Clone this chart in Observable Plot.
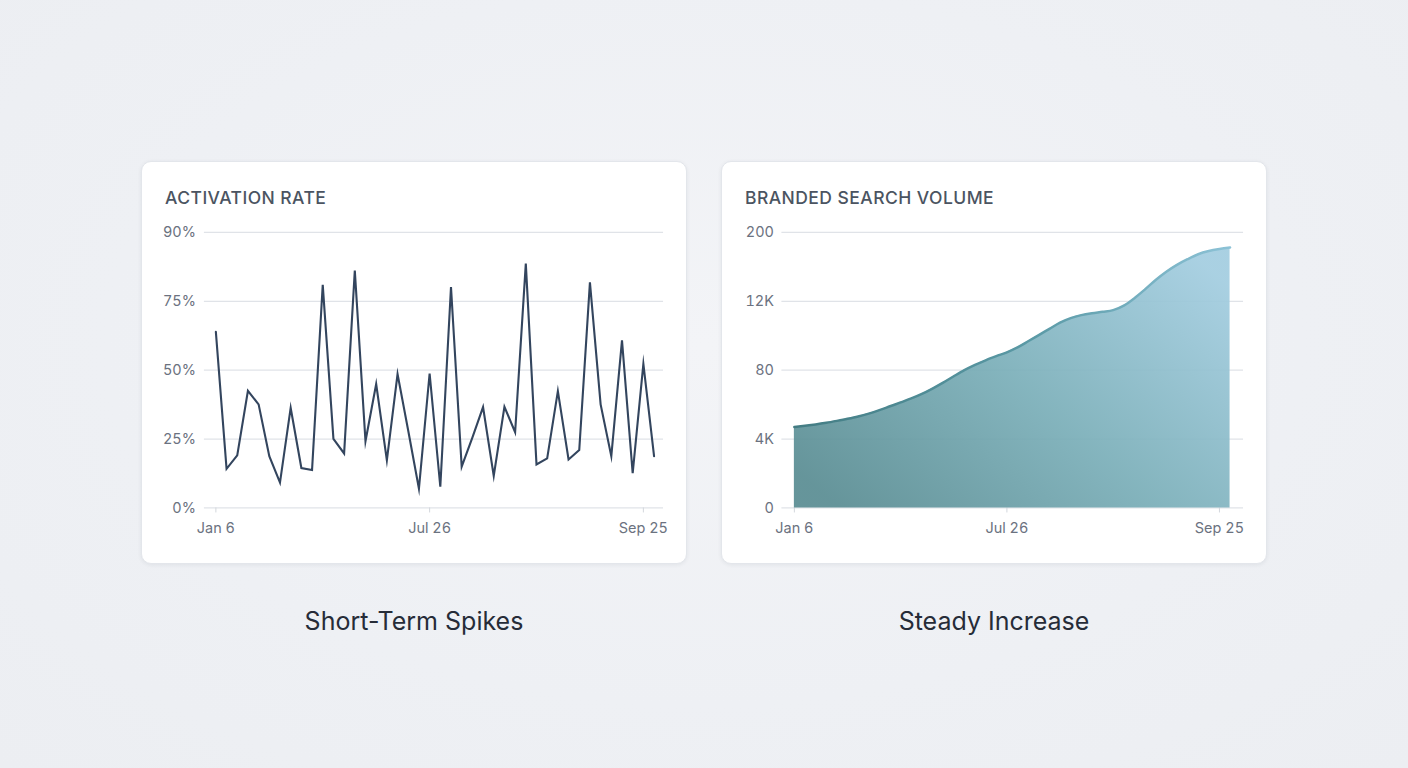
<!DOCTYPE html>
<html>
<head>
<meta charset="utf-8">
<script src="https://cdn.jsdelivr.net/npm/d3@7"></script>
<script src="https://cdn.jsdelivr.net/npm/@observablehq/plot@0.6"></script>
<style>
  html, body { margin: 0; padding: 0; }
  body {
    width: 1408px; height: 768px; position: relative; overflow: hidden;
    background: radial-gradient(ellipse at 50% 45%, #f3f4f7 0%, #eef0f4 60%, #eceef2 100%);
    font-family: Inter, "Noto Sans", sans-serif;
  }
  .card {
    position: absolute; top: 161px; width: 546px; height: 403px; box-sizing: border-box;
    background: #ffffff; border: 1px solid #e3e6eb; border-radius: 10px;
    box-shadow: 0 1px 4px rgba(30, 40, 60, 0.07);
  }
  .title {
    position: absolute; left: 23px; top: 26px; line-height: 20px;
    font-size: 17.5px; font-weight: 500; letter-spacing: 0.45px; color: #4b5461;
  }
  .chart { position: absolute; left: -1px; top: 49px; }
  .caption {
    position: absolute; top: 605px; width: 546px; text-align: center;
    font-size: 25px; line-height: 32px; color: #262c38; font-weight: 400;
  }
</style>
</head>
<body>
<div class="card" id="card1" style="left:141px"><div class="title">ACTIVATION RATE</div><div class="chart" id="chart1"></div></div>
<div class="card" id="card2" style="left:721px"><div class="title">BRANDED SEARCH VOLUME</div><div class="chart" id="chart2"></div></div>
<div class="caption" style="left:141px">Short-Term Spikes</div>
<div class="caption" style="left:721px">Steady Increase</div>
<script>
// ---- data ----
const xTickIndex = [0, 20, 40];
const xTickLabels = ["Jan 6", "Jul 26", "Sep 25"];

const activationRate = [63.9, 14.2, 19.1, 42.5, 37.6, 18.8, 9.2, 36.3, 14.5, 13.8,
  81.0, 25.1, 19.8, 86.2, 24.2, 45.0, 17.3, 48.6, 28.0, 7.0,
  48.8, 7.7, 80.2, 15.0, 25.5, 36.6, 11.6, 36.7, 27.5, 88.7,
  15.8, 18.0, 42.4, 17.6, 21.0, 81.9, 37.6, 18.8, 60.8, 12.6,
  52.3, 18.8];
const rateTickValues = [0, 25, 50, 75, 100];
const rateTickLabels = ["0%", "25%", "50%", "75%", "90%"];

const searchVolume = [58.7, 59.6, 60.6, 61.8, 63.2, 64.7, 66.4, 68.5, 71.0, 73.8,
  76.6, 79.5, 82.8, 86.7, 91.0, 95.6, 100.0, 103.8, 107.2, 110.2,
  113.0, 116.6, 121.0, 125.5, 130.0, 134.5, 137.8, 140.0, 141.4, 142.4,
  143.6, 146.9, 152.3, 158.7, 165.5, 171.5, 176.5, 180.6, 184.2, 186.5,
  188.0, 189.1];
const volumeTickValues = [0, 50, 100, 150, 200];
const volumeTickLabels = ["0", "4K", "80", "12K", "200"];

const rateData = activationRate.map((v, i) => ({i, v}));
const volumeData = searchVolume.map((v, i) => ({i, v}));

const gridColor = "#e0e3e8";
const textColor = "#6b7280";

function xAxis() {
  return Plot.axisX({
    ticks: xTickIndex,
    tickFormat: d => xTickLabels[xTickIndex.indexOf(d)],
    tickSize: 5, tickPadding: 10,
    stroke: "#d3d7dd", fill: textColor, label: null
  });
}

// ---- chart 1 ----
const p1 = Plot.plot({
  width: 546, height: 340,
  marginLeft: 63, marginRight: 23, marginTop: 21, marginBottom: 43,
  style: {fontFamily: "Inter, sans-serif", fontSize: "14.5px", color: textColor, background: "transparent"},
  x: {domain: [0, 41], insetLeft: 11.5, insetRight: 9.5},
  y: {domain: [0, 100]},
  marks: [
    Plot.gridY(rateTickValues, {stroke: gridColor, strokeOpacity: 1, strokeWidth: 1.2}),
    Plot.axisY({ticks: rateTickValues, tickFormat: d => rateTickLabels[rateTickValues.indexOf(d)],
      tickSize: 0, tickPadding: 8.5, fill: textColor, label: null}),
    xAxis(),
    Plot.lineY(rateData, {x: "i", y: "v", stroke: "#33455e", strokeWidth: 2.1, strokeLinejoin: "miter", strokeMiterlimit: 10})
  ]
});
document.getElementById("chart1").appendChild(p1);

// ---- chart 2 ----
const p2 = Plot.plot({
  width: 546, height: 340,
  marginLeft: 60.5, marginRight: 23, marginTop: 21, marginBottom: 43,
  style: {fontFamily: "Inter, sans-serif", fontSize: "14.5px", color: textColor, background: "transparent"},
  x: {domain: [0, 41], insetLeft: 12.5, insetRight: 13.5},
  y: {domain: [0, 200]},
  marks: [
    Plot.gridY(volumeTickValues, {stroke: gridColor, strokeOpacity: 1, strokeWidth: 1.2}),
    Plot.axisY({ticks: volumeTickValues, tickFormat: d => volumeTickLabels[volumeTickValues.indexOf(d)],
      tickSize: 0, tickPadding: 8, fill: textColor, label: null}),
    xAxis(),
    Plot.areaY(volumeData, {x: "i", y: "v", curve: "monotone-x", fill: "url(#areaGrad)", fillOpacity: 0.93}),
    Plot.lineY(volumeData, {x: "i", y: "v", curve: "monotone-x", stroke: "url(#lineGrad)", strokeWidth: 2.5})
  ]
});
const defs = d3.select(p2).insert("defs", ":first-child");
const ag = defs.append("linearGradient").attr("id", "areaGrad")
  .attr("x1", 0).attr("y1", 0.85).attr("x2", 1).attr("y2", 0.15);
ag.append("stop").attr("offset", "0%").attr("stop-color", "#5a8d93");
ag.append("stop").attr("offset", "50%").attr("stop-color", "#7bafb9");
ag.append("stop").attr("offset", "100%").attr("stop-color", "#a3cde0");
const lg = defs.append("linearGradient").attr("id", "lineGrad")
  .attr("x1", 0).attr("y1", 0).attr("x2", 1).attr("y2", 0);
lg.append("stop").attr("offset", "0%").attr("stop-color", "#437c83");
lg.append("stop").attr("offset", "55%").attr("stop-color", "#5b9aa6");
lg.append("stop").attr("offset", "100%").attr("stop-color", "#8cc2d6");
document.getElementById("chart2").appendChild(p2);
</script>
</body>
</html>
